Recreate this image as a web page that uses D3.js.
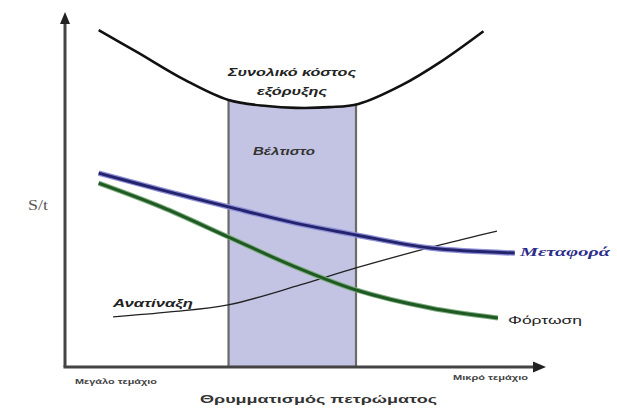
<!DOCTYPE html>
<html><head><meta charset="utf-8">
<script src="https://cdn.jsdelivr.net/npm/d3@7"></script>
<style>body{margin:0;background:#fff}svg{display:block}</style>
</head><body><svg id="c" width="617" height="414"></svg>
<script>
// Data (x: fragmentation index 0-100, y: cost index 0-100)
const totalX = [7, 15, 25, 34, 42, 48, 55, 61, 70, 78, 87];
const totalY = [94.9, 88.7, 80.8, 75.2, 73.5, 73.0, 73.2, 74.1, 79.4, 85.9, 94.6];
const transportX = [7, 20, 34, 47, 60.5, 76, 93.5];
const transportY = [54.6, 49.9, 45.1, 40.8, 37.2, 33.5, 32.1];
const loadingX = [7, 20, 34, 47, 60.5, 76, 90];
const loadingY = [51.8, 45.1, 36.6, 28.7, 21.7, 16.6, 13.8];
const blastX = [10, 21.8, 33.9, 48.9, 60.5, 78, 89.8];
const blastY = [14.1, 15.5, 17.5, 23.1, 27.9, 34.4, 38.3];
const optimumRange = [34, 60.5];
const labels = {
  total1: "Συνολικό κόστος", total2: "εξόρυξης", optimum: "Βέλτιστο",
  transport: "Μεταφορά", loading: "Φόρτωση", blast: "Ανατίναξη",
  yTitle: "S/t", xTitle: "Θρυμματισμός πετρώματος",
  xLeft: "Μεγάλο τεμάχιο", xRight: "Μικρό τεμάχιο"
};

const svg = d3.select("#c");
const x = d3.scaleLinear().domain([0, 100]).range([65, 546]);
const y = d3.scaleLinear().domain([0, 100]).range([367, 12]);
const zip = (a, b) => a.map((v, i) => [v, b[i]]);
const line = d3.line().x(d => x(d[0])).y(d => y(d[1])).curve(d3.curveCatmullRom);

// clip for optimum box (below total cost curve)
const totalPts = zip(totalX, totalY);
const area = d3.area().x(d => x(d[0])).y0(y(0)).y1(d => y(d[1])).curve(d3.curveCatmullRom);
svg.append("clipPath").attr("id", "below").append("path").attr("d", area(totalPts));
svg.append("rect")
  .attr("x", x(optimumRange[0])).attr("width", x(optimumRange[1]) - x(optimumRange[0]))
  .attr("y", y(100)).attr("height", y(0) - y(100))
  .attr("fill", "#c3c3e3").attr("stroke", "#6a6a6a").attr("stroke-width", 2.2)
  .attr("clip-path", "url(#below)");

// Curves
svg.append("path").attr("d", line(zip(blastX, blastY))).attr("fill", "none")
  .attr("stroke", "#222").attr("stroke-width", 1.3);
svg.append("path").attr("d", line(zip(loadingX, loadingY))).attr("fill", "none")
  .attr("stroke", "#7fae7f").attr("stroke-width", 5);
svg.append("path").attr("d", line(zip(loadingX, loadingY))).attr("fill", "none")
  .attr("stroke", "#1f5a25").attr("stroke-width", 3);
svg.append("path").attr("d", line(zip(transportX, transportY))).attr("fill", "none")
  .attr("stroke", "#8f8fd8").attr("stroke-width", 5.5);
svg.append("path").attr("d", line(zip(transportX, transportY))).attr("fill", "none")
  .attr("stroke", "#24246e").attr("stroke-width", 3);
svg.append("path").attr("d", line(totalPts)).attr("fill", "none")
  .attr("stroke", "#111").attr("stroke-width", 2.6);

// Axes
const ax = svg.append("g").attr("stroke", "#444").attr("stroke-width", 3).attr("fill", "none");
ax.append("line").attr("x1", x(0)).attr("y1", y(0)).attr("x2", x(0)).attr("y2", y(97));
ax.append("line").attr("x1", x(0) - 1.5).attr("y1", y(0)).attr("x2", x(97.5)).attr("y2", y(0));
svg.append("path").attr("fill", "#222")
  .attr("d", `M${x(0)},${y(100)}L${x(0) - 5},${y(100) + 12}L${x(0) + 5},${y(100) + 12}Z`);
svg.append("path").attr("fill", "#222")
  .attr("d", `M${x(100)},${y(0)}L${x(100) - 13},${y(0) - 5.5}L${x(100) - 13},${y(0) + 5.5}Z`);

// Text
const font = "'Liberation Sans', Arial, sans-serif";
function txt(t, px, py, o) {
  const e = svg.append("text").text(t).attr("x", px).attr("y", py)
    .attr("font-family", o.family || font).attr("font-size", o.size)
    .attr("font-weight", o.weight || "normal").attr("font-style", o.style || "normal")
    .attr("fill", o.fill || "#222").attr("text-anchor", o.anchor || "start");
  if (o.len) e.attr("textLength", o.len).attr("lengthAdjust", "spacingAndGlyphs");
  return e;
}
txt(labels.total1, 292, 76, {size: 11, weight: "bold", style: "italic", anchor: "middle", len: 128});
txt(labels.total2, 292, 95, {size: 11, weight: "bold", style: "italic", anchor: "middle", len: 70});
txt(labels.optimum, 284, 155, {size: 10, weight: "bold", style: "italic", anchor: "middle", len: 62, fill: "#333"});
txt(labels.transport, 520, 256, {size: 13, weight: "bold", style: "italic", family: "'Liberation Serif', serif", fill: "#2d2d8a", len: 90});
txt(labels.loading, 508, 324, {size: 11, fill: "#222", len: 74});
txt(labels.blast, 113, 307, {size: 10, weight: "bold", style: "italic", len: 80});
txt(labels.yTitle, 28, 210, {size: 14, family: "'Liberation Serif', serif", fill: "#555", len: 20});
txt(labels.xLeft, 75, 384, {size: 8, weight: "bold", fill: "#444", len: 82});
txt(labels.xRight, 453, 380, {size: 8, weight: "bold", fill: "#444", len: 75});
txt(labels.xTitle, 200, 403, {size: 11, weight: "bold", fill: "#333", len: 237});
</script></body></html>
